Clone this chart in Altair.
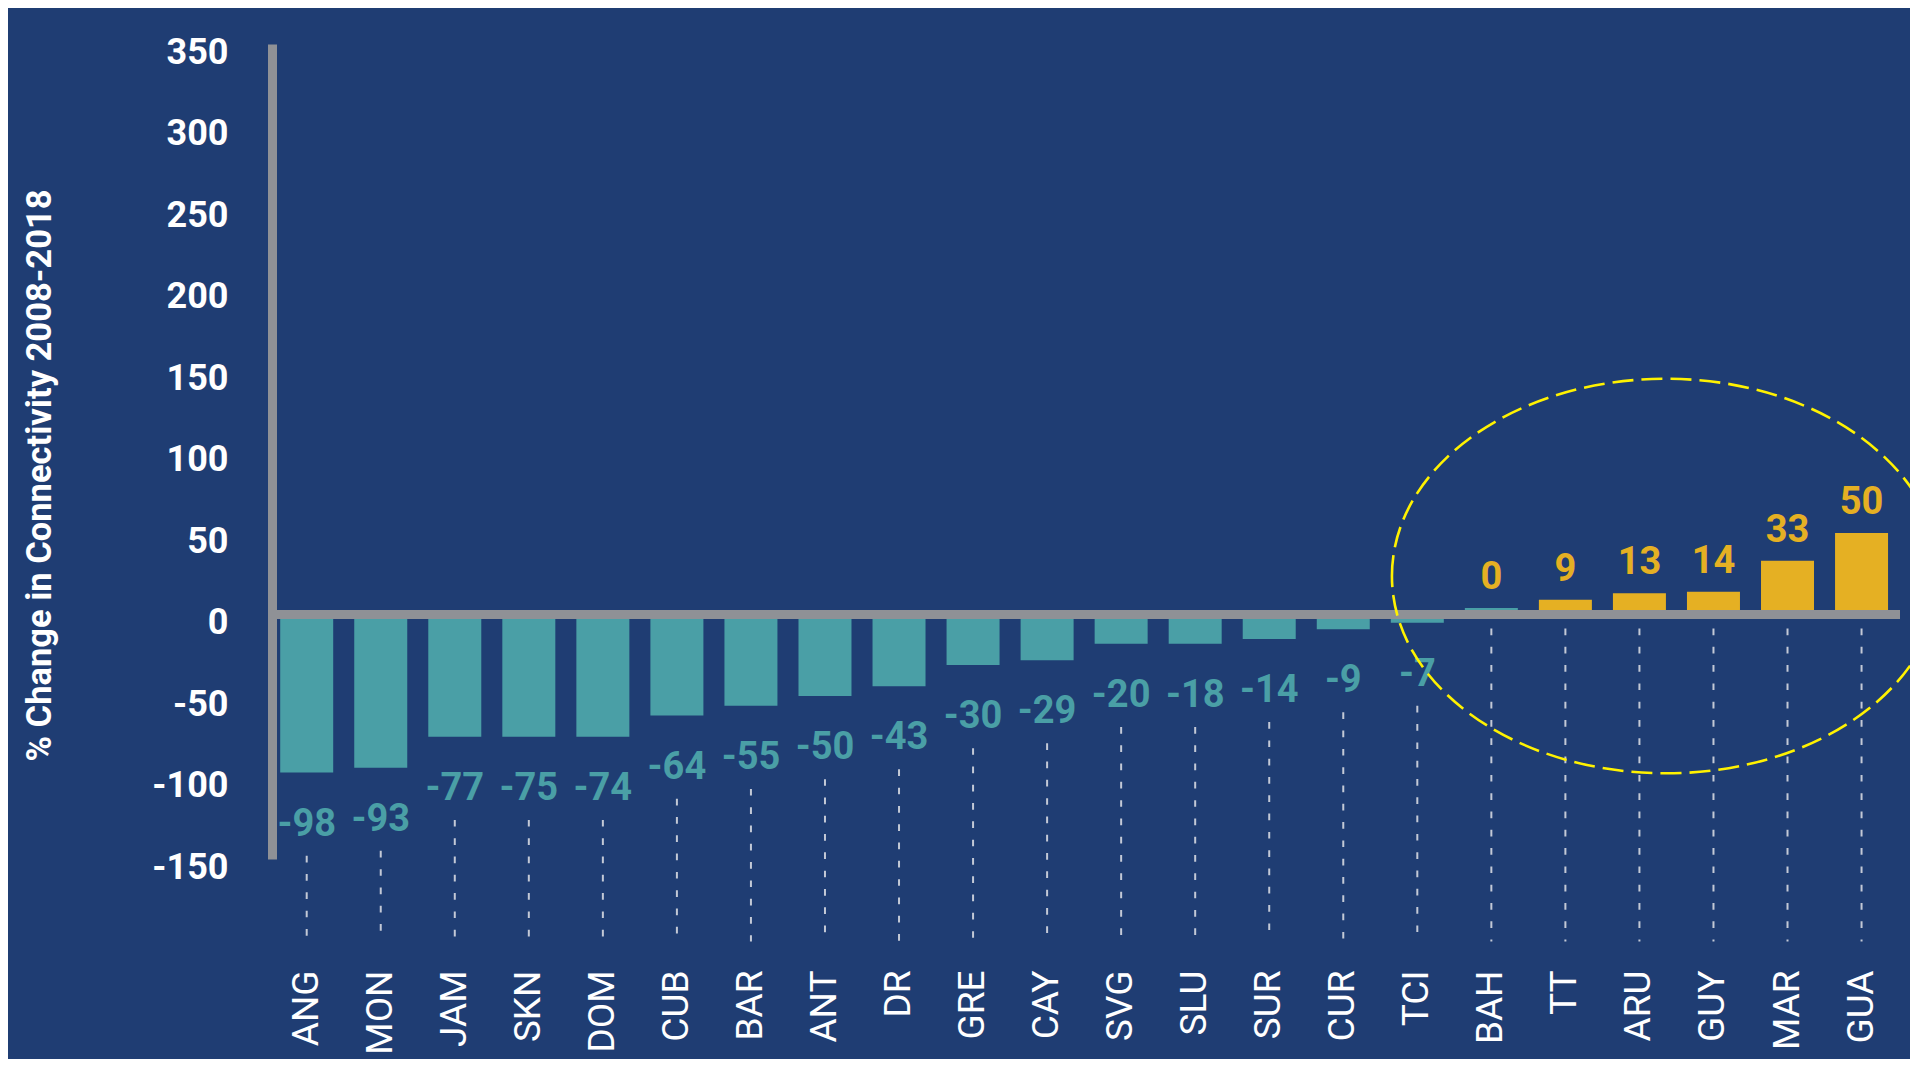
import altair as alt
import pandas as pd

# ---------------- data ----------------
categories = ["ANG", "MON", "JAM", "SKN", "DOM", "CUB", "BAR", "ANT", "DR", "GRE", "CAY",
              "SVG", "SLU", "SUR", "CUR", "TCI", "BAH", "TT", "ARU", "GUY", "MAR", "GUA"]
change_pct = [-98, -93, -77, -75, -74, -64, -55, -50, -43, -30, -29,
              -20, -18, -14, -9, -7, 0, 9, 13, 14, 33, 50]
# bar heights as drawn (very close to the labels; BAH shows a thin sliver)
bar_pct = [-97, -94, -75, -75, -75, -62, -56, -50, -44, -31, -28,
           -18, -18, -15, -9, -5, 4, 9, 13, 14, 33, 50]
y_ticks = [-150, -100, -50, 0, 50, 100, 150, 200, 250, 300, 350]
y_title = "% Change in Connectivity 2008-2018"

# highlighted group (dashed ellipse) anchored at the end of the ARU band
highlight_cat = ["ARU"]
highlight_val = [23.6]

# ---------------- style ----------------
NAVY = "#1f3d73"
TEAL = "#4a9fa6"
GOLD = "#e5b023"
GRAY = "#8f9196"
DASH = "#c3c9d6"
YELLOW = "#fff200"
K = 0.5523
RY = 0.72
ELLIPSE = (f"M -1 0 C -1 {-RY*K:.4f} {-K} {-RY} 0 {-RY} C {K} {-RY} 1 {-RY*K:.4f} 1 0 "
           f"C 1 {RY*K:.4f} {K} {RY} 0 {RY} C {-K} {RY} -1 {RY*K:.4f} -1 0 Z")

W, H = 1624, 815

df = pd.DataFrame({
    "cat": categories,
    "pct": change_pct,
    "bar": bar_pct,
    "label": [str(v) for v in change_pct],
})

x_scale = alt.Scale(domain=categories, paddingInner=0.284, paddingOuter=0.109, align=0.26)
y_scale = alt.Scale(domain=[-150, 350], nice=False, zero=False)

x_axis = alt.Axis(labelAngle=270, labelAlign="right", labelBaseline="middle",
                  labelFont="Roboto", labelFontSize=37, labelFontWeight="normal",
                  labelColor="white", labelPadding=111, ticks=False, tickSize=0,
                  domain=False, grid=False, labelOverlap=False, title="")

y_axis = alt.Axis(values=y_ticks, labelExpr="datum.value + ''",
                  labelFont="Roboto", labelFontSize=36, labelFontWeight="bold",
                  labelColor="white", labelPadding=44, labelOffset=8,
                  ticks=False, tickSize=0, domain=True, domainColor=GRAY,
                  domainWidth=9, offset=4, grid=False, labelOverlap=False,
                  title=y_title, titleFont="Roboto", titleFontSize=34.5,
                  titleFontWeight="bold", titleColor="white", titleAngle=270,
                  titleAlign="center", titleBaseline="alphabetic",
                  titleX=-222, titleY=431)


def X(field, **kw):
    return alt.X(field, scale=x_scale, axis=x_axis, **kw)


def Y(field):
    return alt.Y(field, scale=y_scale, axis=y_axis)


base = alt.Chart(df)

bars = base.mark_bar(size=53).encode(
    x=X("cat:N"),
    y=Y("bar:Q"),
    y2=alt.Y2Datum(0),
    color=alt.condition("datum.pct > 0", alt.value(GOLD), alt.value(TEAL)),
)

leaders = base.transform_calculate(
    dash_top="datum.pct < 0 ? datum.bar - 51 : -8.6"
).mark_rule(color=DASH, strokeWidth=2, strokeDash=[6.7, 11.6]).encode(
    x=X("cat:N"),
    y=Y("dash_top:Q"),
    y2=alt.Y2Datum(-200.6),
)

zero_line = alt.Chart(pd.DataFrame({"zero": [0]})).mark_rule(
    color=GRAY, strokeWidth=9
).encode(y=Y("zero:Q"))

neg_labels = base.transform_filter("datum.pct < 0").mark_text(
    dy=52, font="Roboto", fontSize=38, fontWeight="bold", color=TEAL
).encode(
    x=X("cat:N"),
    y=Y("bar:Q"),
    text="label:N",
)

pos_labels = base.transform_filter("datum.pct >= 0").mark_text(
    dy=-30, font="Roboto", fontSize=38, fontWeight="bold", color=GOLD
).encode(
    x=X("cat:N"),
    y=Y("bar:Q"),
    text="label:N",
)

ellipse = alt.Chart(pd.DataFrame({"cat": highlight_cat, "v": highlight_val})).mark_point(
    shape=ELLIPSE, size=548 * 548, filled=False, color=YELLOW,
    strokeWidth=2.6, strokeDash=[21, 8], opacity=1
).encode(
    x=X("cat:N", bandPosition=1),
    y=Y("v:Q"),
)

chart = alt.layer(bars, leaders, zero_line, neg_labels, pos_labels, ellipse).properties(
    width=W, height=H,
    autosize=alt.AutoSizeParams(type="none"),
    padding={"left": 268, "top": 36, "right": 10, "bottom": 200},
    background=NAVY,
).configure_view(stroke="transparent")

chart.save("out.html", embed_options={"renderer": "svg", "actions": False})
